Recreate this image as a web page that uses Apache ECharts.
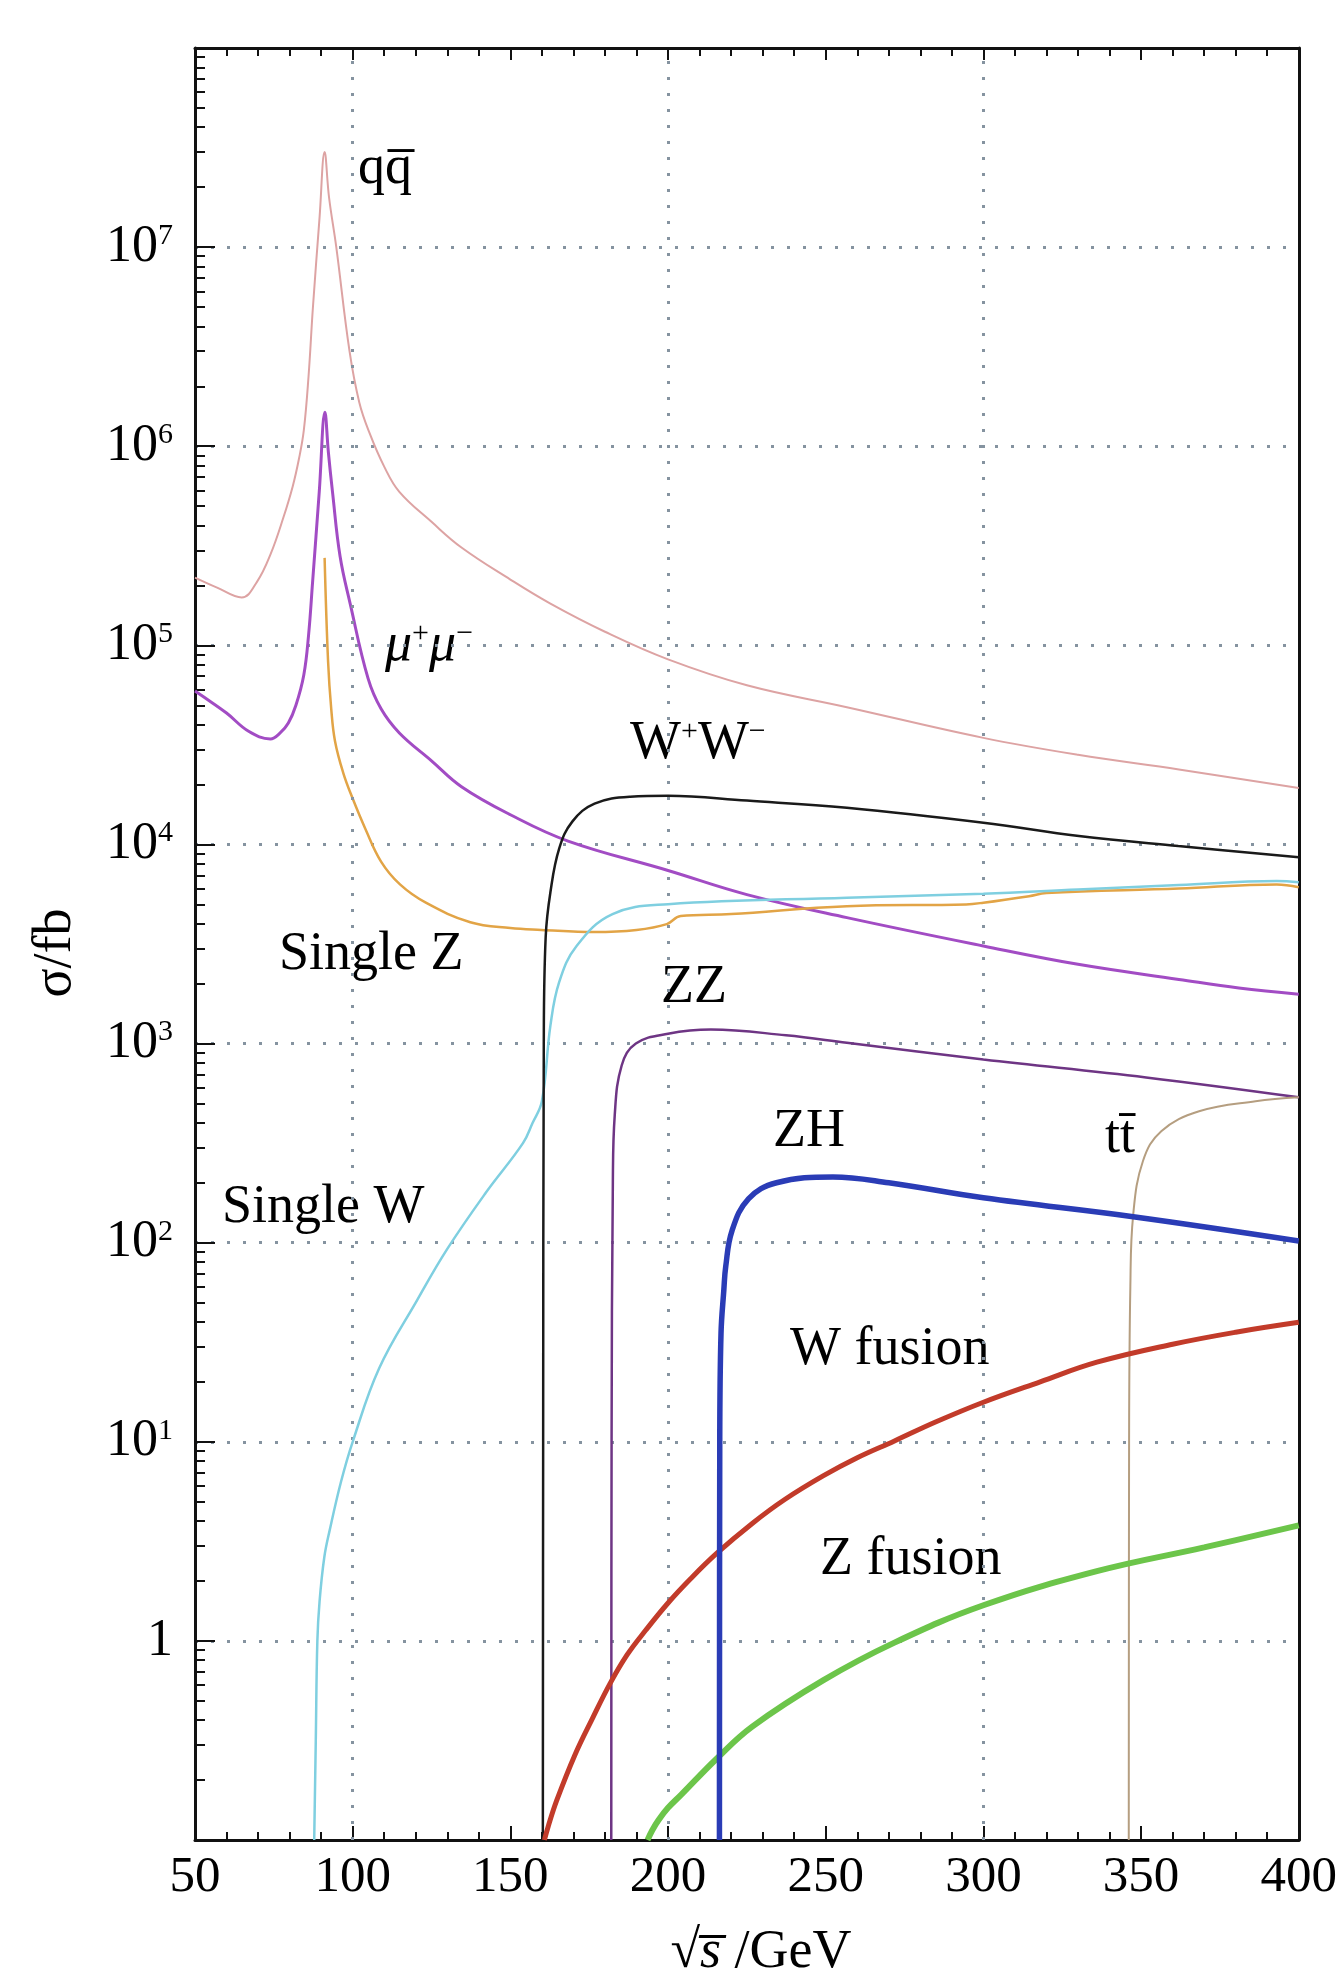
<!DOCTYPE html>
<html>
<head>
<meta charset="utf-8">
<script src="https://cdn.jsdelivr.net/npm/echarts@6/dist/echarts.min.js"></script>
<style>
html, body { margin: 0; padding: 0; background: #fff; }
#chart { width: 1340px; height: 1969px; }
</style>
</head>
<body>
<div id="chart"></div>
<script>
// sqrt(s) in GeV, cross sections in fb
const qqE = [50, 57, 64.8, 69.7, 74, 78, 81, 83, 84.5, 86, 87.4, 89.5, 91.1, 92.5, 94.8, 99, 102.1, 105.3, 110, 114.8, 125, 134.5, 150, 162.7, 180, 200, 225, 256.7, 300, 330, 362, 400];
const qqXs = [2.19e5, 1.95e5, 1.74e5, 2.09e5, 2.88e5, 4.37e5, 6.3e5, 8.7e5, 1.2e6, 2.24e6, 5.0e6, 1.41e7, 3.0e7, 1.78e7, 1.0e7, 3.0e6, 1.66e6, 1.17e6, 7.9e5, 5.9e5, 4.17e5, 3.1e5, 2.14e5, 1.62e5, 1.17e5, 8.5e4, 6.3e4, 4.89e4, 3.43e4, 2.82e4, 2.38e4, 1.92e4];

const mumuE = [50, 52.8, 60, 67, 73.9, 77, 79.6, 82, 84.5, 86, 87.3, 89.4, 91.2, 92.3, 93.6, 96, 99.2, 104.9, 109, 114.8, 125, 134.5, 150, 168.3, 200, 225, 256.7, 300, 330, 362, 381, 400];
const mumuXs = [5.9e4, 5.5e4, 4.57e4, 3.7e4, 3.39e4, 3.63e4, 4.07e4, 5.0e4, 7.1e4, 1.12e5, 2.09e5, 5.9e5, 1.48e6, 9.3e5, 5.9e5, 2.8e5, 1.62e5, 6.8e4, 4.8e4, 3.63e4, 2.63e4, 1.95e4, 1.41e4, 1.04e4, 7.4e3, 5.6e3, 4.29e3, 3.09e3, 2.5e3, 2.1e3, 1.9e3, 1.77e3];

const singleZE = [91.1, 92.2, 93.2, 94.4, 97, 100, 104, 109, 115, 123.2, 137.3, 150, 159.8, 176.7, 190, 199.6, 204, 220, 256.7, 294.5, 300, 314.5, 320, 362, 393, 400];
const singleZXs = [2.75e5, 8.3e4, 4.8e4, 3.3e4, 2.29e4, 1.7e4, 1.2e4, 8.2e3, 6.3e3, 5.1e3, 4.07e3, 3.8e3, 3.72e3, 3.63e3, 3.72e3, 3.98e3, 4.37e3, 4.47e3, 4.9e3, 5.0e3, 5.1e3, 5.5e3, 5.7e3, 6.0e3, 6.3e3, 6.1e3];

const singleWE = [87.8, 88.3, 88.8, 89.5, 91, 92.7, 96.3, 100, 108.4, 120.4, 130, 142.2, 154, 157, 160, 162.7, 165.5, 171, 182.4, 200, 256.7, 300, 330, 362, 393, 400];
const singleWXs = [0.1, 0.316, 1, 1.58, 2.63, 3.59, 6.3, 10, 23.4, 51.3, 93, 178, 316, 398, 513, 1230, 2040, 3090, 4470, 5010, 5400, 5650, 5940, 6250, 6550, 6460];

const wwE = [160.3, 160.4, 160.6, 161.2, 162.7, 165.5, 169.7, 176.7, 188, 200, 225, 256.7, 300, 330.3, 361.8, 400];
const wwXs = [0.1, 10, 1000, 3430, 5750, 9550, 13060, 16030, 17380, 17580, 16600, 15280, 12850, 11020, 9820, 8630];

const zzE = [182.0, 182.1, 182.5, 183.1, 185.3, 189.8, 200, 213.6, 237.4, 256.7, 300, 351.6, 400];
const zzXs = [0.1, 10, 200, 437, 776, 1000, 1120, 1175, 1100, 1010, 832, 676, 537];

const zhE = [216.3, 216.4, 216.8, 217.7, 218.3, 220.3, 225.5, 234.4, 252.3, 270, 300, 347.5, 400];
const zhXs = [0.1, 10, 35, 58, 76, 115, 166, 200, 214, 200, 168, 135, 102];

const wFusE = [160.8, 162, 164.7, 170.4, 176, 181.6, 187, 192.9, 200, 207, 215.4, 226.7, 237, 249.3, 260, 271.8, 285, 300, 318, 336, 360, 380, 400];
const wFusXs = [0.1, 0.117, 0.158, 0.266, 0.407, 0.61, 0.85, 1.13, 1.55, 2.04, 2.75, 3.89, 5.13, 6.76, 8.32, 10.1, 12.6, 15.8, 20.0, 25.1, 30.9, 35.5, 39.8];

const zFusE = [193.5, 195, 197, 200, 204.2, 215.4, 226.7, 249.3, 271.8, 300, 336, 370, 400];
const zFusXs = [0.1, 0.112, 0.126, 0.145, 0.169, 0.256, 0.371, 0.635, 0.98, 1.51, 2.24, 2.95, 3.80];

const ttE = [346.1, 346.2, 346.6, 347.5, 350.6, 356.4, 368.4, 386.3, 400];
const ttXs = [0.1, 10, 60, 138, 257, 363, 457, 513, 537];

const xTicks = [50, 100, 150, 200, 250, 300, 350, 400];
const xGridAt = [100, 200, 300];

const serif = '"Liberation Serif", "Times New Roman", serif';
const gridDots = { color: "#8593a0", width: 3, type: [3, 13] };

function pairs(xs, ys) {
  return xs.map(function (x, i) { return [x, ys[i]]; });
}

function curve(name, xs, ys, color, width, z) {
  return {
    name: name,
    type: "line",
    data: pairs(xs, ys),
    showSymbol: false,
    smooth: 0.4,
    clip: true,
    z: z,
    lineStyle: { color: color, width: width },
  };
}

function yLabel(v) {
  const e = Math.round(Math.log10(v));
  if (e < 0 || e > 7) return "";
  if (e === 0) return "1";
  return "10{s|" + e + "}";
}

let myChart = echarts.init(document.getElementById("chart"), null, { renderer: "canvas" });
myChart.setOption({
  backgroundColor: "#fff",
  animation: false,
  grid: { left: 195, right: 34, top: 48, bottom: 129, containLabel: false },
  xAxis: [{
    type: "value",
    min: xTicks[0],
    max: xTicks[xTicks.length - 1],
    interval: 50,
    position: "bottom",
    axisLine: { show: true, onZero: false, lineStyle: { color: "#111", width: 3 } },
    axisTick: { show: true, inside: true, length: 14, lineStyle: { color: "#111", width: 2 } },
    minorTick: { show: true, splitNumber: 5, length: 8, lineStyle: { color: "#111", width: 2 } },
    axisLabel: { color: "#000", fontFamily: serif, fontSize: 51, margin: 12 },
    splitLine: { show: false },
  }, {
    type: "value",
    min: xTicks[0],
    max: xTicks[xTicks.length - 1],
    interval: 50,
    position: "top",
    axisLine: { show: true, onZero: false, lineStyle: { color: "#111", width: 3 } },
    axisTick: { show: true, inside: true, length: 12, lineStyle: { color: "#111", width: 2 } },
    minorTick: { show: true, splitNumber: 5, length: 8, lineStyle: { color: "#111", width: 2 } },
    axisLabel: { show: false },
    splitLine: { show: false },
  }],
  yAxis: [{
    type: "log",
    logBase: 10,
    min: 0.1,
    max: 1e8,
    splitNumber: 9,
    position: "left",
    axisLine: { show: true, onZero: false, lineStyle: { color: "#111", width: 3 } },
    axisTick: { show: true, inside: true, length: 20, lineStyle: { color: "#111", width: 2 } },
    minorTick: { show: true, splitNumber: 9, length: 10, lineStyle: { color: "#111", width: 2 } },
    axisLabel: {
      color: "#000",
      fontFamily: serif,
      fontSize: 52,
      lineHeight: 52,
      margin: 22,
      formatter: yLabel,
      rich: { s: { fontFamily: serif, fontSize: 30, lineHeight: 30, verticalAlign: "top", color: "#000" } },
    },
    splitLine: { show: true, lineStyle: gridDots },
  }, {
    type: "log",
    logBase: 10,
    min: 0.1,
    max: 1e8,
    position: "right",
    axisLine: { show: true, onZero: false, lineStyle: { color: "#111", width: 3 } },
    axisTick: { show: false },
    axisLabel: { show: false },
    splitLine: { show: false },
  }],
  series: [
    {
      name: "grid",
      type: "line",
      data: [],
      z: 1,
      markLine: {
        silent: true,
        symbol: "none",
        label: { show: false },
        lineStyle: gridDots,
        data: xGridAt.map(function (v) { return { xAxis: v }; }),
      },
    },
    curve("qq", qqE, qqXs, "#dda3a3", 2, 3),
    curve("mumu", mumuE, mumuXs, "#a24cc4", 3, 4),
    curve("Single Z", singleZE, singleZXs, "#e2a446", 2.5, 4),
    curve("Single W", singleWE, singleWXs, "#7fcfe0", 2.5, 5),
    curve("WW", wwE, wwXs, "#1a1a1a", 2.5, 5),
    curve("ZZ", zzE, zzXs, "#6e3584", 2.5, 5),
    curve("tt", ttE, ttXs, "#b59e80", 2, 5),
    curve("W fusion", wFusE, wFusXs, "#c23b2a", 5, 6),
    curve("Z fusion", zFusE, zFusXs, "#6cc54a", 6, 6),
    curve("ZH", zhE, zhXs, "#2a3cb6", 5.5, 7),
  ],
  graphic: [
    { type: "text", x: 358, y: 169, style: { text: "qq\u0305", fontFamily: serif, fontSize: 54, fill: "#000", verticalAlign: "middle" } },
    { type: "text", x: 385, y: 646, style: {
      text: "{m|\u03bc}{p|+}{m|\u03bc}{p|\u2212}", fill: "#000", verticalAlign: "middle",
      rich: {
        m: { fontFamily: serif, fontStyle: "italic", fontSize: 54, lineHeight: 54 },
        p: { fontFamily: serif, fontSize: 30, lineHeight: 30, verticalAlign: "top" },
      } } },
    { type: "text", x: 630, y: 744, style: {
      text: "{m|W}{p|+}{m|W}{p|\u2212}", fill: "#000", verticalAlign: "middle",
      rich: {
        m: { fontFamily: serif, fontSize: 54, lineHeight: 54 },
        p: { fontFamily: serif, fontSize: 30, lineHeight: 30, verticalAlign: "top" },
      } } },
    { type: "text", x: 279, y: 955, style: { text: "Single Z", fontFamily: serif, fontSize: 54, fill: "#000", verticalAlign: "middle" } },
    { type: "text", x: 661, y: 988, style: { text: "ZZ", fontFamily: serif, fontSize: 54, fill: "#000", verticalAlign: "middle" } },
    { type: "text", x: 773, y: 1132, style: { text: "ZH", fontFamily: serif, fontSize: 54, fill: "#000", verticalAlign: "middle" } },
    { type: "text", x: 1105, y: 1138, style: { text: "tt\u0304", fontFamily: serif, fontSize: 54, fill: "#000", verticalAlign: "middle" } },
    { type: "text", x: 222, y: 1208, style: { text: "Single W", fontFamily: serif, fontSize: 54, fill: "#000", verticalAlign: "middle" } },
    { type: "text", x: 790, y: 1350, style: { text: "W fusion", fontFamily: serif, fontSize: 54, fill: "#000", verticalAlign: "middle" } },
    { type: "text", x: 820, y: 1560, style: { text: "Z fusion", fontFamily: serif, fontSize: 54, fill: "#000", verticalAlign: "middle" } },
    { type: "text", x: 56, y: 953, rotation: Math.PI / 2, style: { text: "\u03c3/fb", fontFamily: serif, fontSize: 54, fill: "#000", align: "center", verticalAlign: "middle" } },
    { type: "text", x: 761, y: 1953, style: {
      text: "{r|\u221a}{s|s\u0305}{n| /GeV}", fill: "#000", align: "center", verticalAlign: "middle",
      rich: {
        r: { fontFamily: serif, fontSize: 54 },
        s: { fontFamily: serif, fontStyle: "italic", fontSize: 54 },
        n: { fontFamily: serif, fontSize: 54 },
      } } },
  ],
});
window.onresize = function () {
  myChart.resize();
};
</script>
</body>
</html>
